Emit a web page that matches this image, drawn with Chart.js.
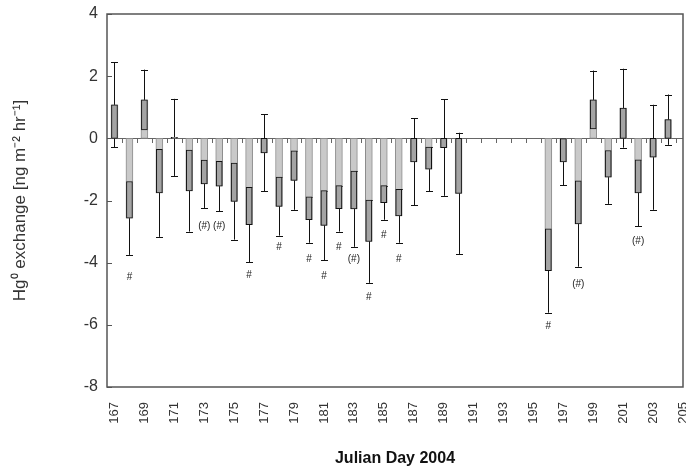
<!DOCTYPE html>
<html>
<head>
<meta charset="utf-8">
<script src="https://cdn.jsdelivr.net/npm/chart.js@4.4.1/dist/chart.umd.min.js"></script>
<style>
  body { margin: 0; background: #fff; }
</style>
</head>
<body>
<canvas id="myChart" width="686" height="470"></canvas>
<script>
const days = [167, 168, 169, 170, 171, 172, 173, 174, 175, 176, 177, 178, 179, 180,
  181, 182, 183, 184, 185, 186, 187, 188, 189, 190, 191, 192, 193, 194, 195, 196,
  197, 198, 199, 200, 201, 202, 203, 204, 205]
const flux = [1.08, -2.57, 1.24, -1.76, 0.03, -1.69, -1.47, -1.54, -2.03, -2.78, -0.47, -2.19, -1.35, -2.62,
  -2.8, -2.26, -2.27, -3.32, -2.07, -2.5, -0.76, -0.99, -0.3, -1.77, null, null, null, null, null, -4.26,
  -0.76, -2.75, 1.24, -1.25, 0.97, -1.76, -0.61, 0.6, null]
const errs = [1.36, 1.18, 0.97, 1.41, 1.24, 1.31, 0.77, 0.8, 1.23, 1.2, 1.24, 0.94, 0.95, 0.74,
  1.12, 0.74, 1.22, 1.33, 0.55, 0.86, 1.4, 0.71, 1.55, 1.95, null, null, null, null, null, 1.35,
  0.75, 1.38, 0.94, 0.86, 1.27, 1.07, 1.69, 0.81, null]
// significance marks and where they sit (y value)
const marks = ['', '#', '', '', '', '', '(#)', '(#)', '', '#', '', '#', '', '#',
  '#', '#', '(#)', '#', '#', '#', '', '', '', '', '', '', '', '', '', '#',
  '', '(#)', '', '', '', '(#)', '', '', '']
const markAt = [null, -4.48, null, null, null, null, -2.82, -2.82, null, -4.42, null, -3.49, null, -3.89,
  -4.45, -3.5, -3.89, -5.12, -3.13, -3.88, null, null, null, null, null, null, null, null, null, -6.06,
  null, -4.69, null, null, null, -3.32, null, null, null]
const dayTicks = [167, 169, 171, 173, 175, 177, 179, 181, 183, 185, 187, 189, 191, 193, 195, 197, 199, 201, 203, 205]
const yTicks = [-8, -6, -4, -2, 0, 2, 4]

const fullBars = days.map((d, i) => ({ x: d, y: flux[i] }))
// the part of the bar covered by the error bar is drawn as a darker box
const boxBars = days.map((d, i) => {
  if (flux[i] == null) return { x: d, y: null }
  const a = flux[i], e = errs[i]
  const start = a < 0 ? Math.min(0, a + e) : Math.max(0, a - e)
  return { x: d, y: [start, a] }
})

const frame = {
  id: 'frame',
  beforeDatasetsDraw(chart) {
    const { ctx, chartArea: ca, scales: { x, y } } = chart
    ctx.save()
    // zero line with day ticks
    const y0 = Math.round(y.getPixelForValue(0))
    ctx.strokeStyle = '#666'
    ctx.lineWidth = 1
    ctx.beginPath()
    ctx.moveTo(ca.left, y0 + 0.5)
    ctx.lineTo(ca.right, y0 + 0.5)
    for (let i = 0; i < days.length - 1; i++) {
      const px = Math.round(x.getPixelForValue(days[i] + 0.5)) + 0.5
      ctx.moveTo(px, y0)
      ctx.lineTo(px, y0 + 5)
    }
    ctx.stroke()
    // error bars
    ctx.strokeStyle = '#111'
    ctx.beginPath()
    days.forEach((d, i) => {
      if (flux[i] == null) return
      const px = Math.round(x.getPixelForValue(d)) + 0.5
      const hi = y.getPixelForValue(flux[i] + errs[i])
      const lo = y.getPixelForValue(flux[i] - errs[i])
      ctx.moveTo(px, hi); ctx.lineTo(px, lo)
      ctx.moveTo(px - 3.5, Math.round(hi) + 0.5); ctx.lineTo(px + 3.5, Math.round(hi) + 0.5)
      ctx.moveTo(px - 3.5, Math.round(lo) + 0.5); ctx.lineTo(px + 3.5, Math.round(lo) + 0.5)
    })
    ctx.stroke()
    ctx.restore()
  },
  afterDatasetsDraw(chart) {
    const { ctx, chartArea: ca, scales: { x, y } } = chart
    ctx.save()
    ctx.fillStyle = '#222'
    ctx.font = '10px "Liberation Sans", Arial, sans-serif'
    ctx.textAlign = 'center'
    ctx.textBaseline = 'middle'
    days.forEach((d, i) => {
      if (!marks[i]) return
      ctx.fillText(marks[i], x.getPixelForValue(d), y.getPixelForValue(markAt[i]))
    })
    // y ticks pointing inwards
    ctx.strokeStyle = '#555'
    ctx.lineWidth = 1
    ctx.beginPath()
    yTicks.forEach(v => {
      const py = Math.round(y.getPixelForValue(v)) + 0.5
      ctx.moveTo(ca.left, py); ctx.lineTo(ca.left + 5, py)
    })
    ctx.stroke()
    ctx.lineWidth = 1.5
    ctx.strokeRect(ca.left, ca.top, ca.right - ca.left, ca.bottom - ca.top)
    ctx.restore()
  }
}

const ctx = document.getElementById('myChart')
const config = {
  type: 'bar',
  data: {
    datasets: [
      {
        data: boxBars,
        backgroundColor: '#a4a4a4',
        borderColor: '#111',
        borderWidth: 1,
        borderSkipped: false,
        barThickness: 6,
        grouped: false,
        order: 0
      },
      {
        data: fullBars,
        backgroundColor: '#c9c9c9',
        borderColor: '#8c8c8c',
        borderWidth: 1,
        borderSkipped: false,
        barThickness: 7,
        grouped: false,
        order: 1
      }
    ]
  },
  options: {
    responsive: false,
    animation: false,
    layout: { padding: { top: 14, right: 3, left: 0, bottom: 0 } },
    plugins: { legend: { display: false }, tooltip: { enabled: false } },
    scales: {
      x: {
        type: 'linear',
        min: 166.5,
        max: 205,
        offset: false,
        afterBuildTicks: s => { s.ticks = dayTicks.map(v => ({ value: v })) },
        afterFit: s => { s.height = 83; s.paddingLeft = 0; s.paddingRight = 0 },
        grid: { display: false, drawTicks: false, tickLength: 0 },
        border: { display: false },
        ticks: {
          autoSkip: false,
          minRotation: 90,
          maxRotation: 90,
          padding: 15,
          color: '#333',
          font: { family: '"Liberation Sans", Arial, sans-serif', size: 13 },
          callback: v => String(v)
        },
        title: {
          display: true,
          text: 'Julian Day 2004',
          color: '#111',
          padding: { top: 0, bottom: 2 },
          font: { family: '"Liberation Sans", Arial, sans-serif', size: 16, weight: 'bold' }
        }
      },
      y: {
        min: -8,
        max: 4,
        afterBuildTicks: s => { s.ticks = yTicks.map(v => ({ value: v })) },
        afterFit: s => { s.width = 107; s.paddingTop = 0; s.paddingBottom = 0 },
        grid: { display: false, drawTicks: false, tickLength: 0 },
        border: { display: false },
        ticks: {
          padding: 9,
          color: '#333',
          font: { family: '"Liberation Sans", Arial, sans-serif', size: 16 }
        },
        title: {
          display: true,
          text: 'Hg⁰ exchange [ng m⁻² hr⁻¹]',
          color: '#333',
          padding: { top: 10, bottom: 0 },
          font: { family: '"Liberation Sans", Arial, sans-serif', size: 17 }
        }
      }
    }
  },
  plugins: [frame]
}

new Chart(ctx, config)
</script>
</body>
</html>
